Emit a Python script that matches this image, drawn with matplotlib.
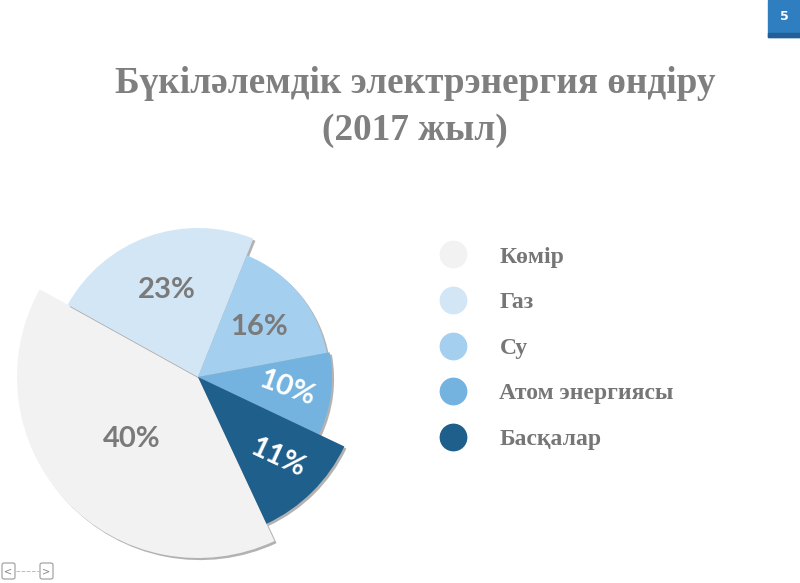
import numpy as np
import matplotlib.pyplot as plt
import matplotlib.patheffects as pe
from matplotlib.lines import Line2D
from matplotlib.patches import Rectangle, FancyBboxPatch

# data
sources = ['Көмір', 'Газ', 'Су', 'Атом энергиясы', 'Басқалар']
shares = [40, 23, 16, 10, 11]
colors = ['#f2f2f2', '#d2e6f5', '#a5cfee', '#74b3e0', '#1f5f8b']

# styling per slice (the slide uses different radii per slice)
radii = [181, 149, 131, 134, 162]
label_dist = [0.5, 0.62, 0.6, 0.67, 0.7]
label_colors = ['#7a7a7a', '#7a7a7a', '#7a7a7a', 'white', 'white']
label_rot = [0, 0, 0, -20, -25]

title = 'Бүкіләлемдік электрэнергия өндіру\n(2017 жыл)'

fig = plt.figure(figsize=(8, 5.83), dpi=100)
ax = fig.add_axes([0, 0, 1, 1])

cx, cy = 198, 206
wedges, _ = ax.pie(shares, colors=colors, startangle=-65, counterclock=False,
                   center=(cx, cy), radius=1)
for w, r in zip(wedges, radii):
    w.set_radius(r)
    w.set_path_effects([pe.SimplePatchShadow(offset=(1.5, -1.5), shadow_rgbFace='#555555', alpha=0.45),
                        pe.Normal()])

for w, s, d, c, rot in zip(wedges, shares, label_dist, label_colors, label_rot):
    ang = np.deg2rad((w.theta1 + w.theta2) / 2)
    ax.text(cx + d * w.r * np.cos(ang), cy + d * w.r * np.sin(ang), f'{s}%',
            ha='center', va='center', fontsize=21, family='Lato', weight='bold',
            color=c, rotation=rot)

ax.set_aspect('auto')
ax.set_xlim(0, 800)
ax.set_ylim(0, 583)
ax.axis('off')

fig.text(0.519, 0.817, title, ha='center', va='center', fontsize=26.8,
         family='Liberation Serif', weight='bold', color='#7f7f7f', linespacing=1.45)

handles = [Line2D([], [], marker='o', ls='', ms=19, mfc=c, mec=c) for c in colors]
ax.legend(handles, sources, loc='center left', bbox_to_anchor=(0.524, 0.403),
          bbox_transform=fig.transFigure, frameon=False,
          prop=dict(family='Liberation Serif', weight='bold', size=17),
          labelcolor='#767676', handlelength=1.1, handletextpad=1.4, labelspacing=1.02)

# slide number badge
fig.patches.append(Rectangle((768 / 800, 1 - 37 / 583), 32 / 800, 37 / 583,
                             color='#2f7ec0', transform=fig.transFigure))
fig.patches.append(Rectangle((768 / 800, 1 - 37 / 583), 32 / 800, 4 / 583,
                             color='#215f95', transform=fig.transFigure))
fig.text(784 / 800, 1 - 17 / 583, '5', ha='center', va='center', color='white',
         fontsize=9, weight='bold')

# navigation arrows
for x0, s in [(2, '<'), (40, '>')]:
    fig.patches.append(FancyBboxPatch((x0 / 800, 4 / 583), 13 / 800, 16 / 583,
                                      boxstyle='round,pad=0,rounding_size=0.003',
                                      fc='white', ec='#9a9a9a', lw=0.8,
                                      transform=fig.transFigure))
    fig.text((x0 + 6.5) / 800, 12 / 583, s, ha='center', va='center', fontsize=7, color='#888888')
fig.add_artist(Line2D([16 / 800, 39 / 800], [12 / 583, 12 / 583], ls='--', lw=0.7,
                      color='#bbbbbb', transform=fig.transFigure))

fig.savefig('out.png', dpi=100)
